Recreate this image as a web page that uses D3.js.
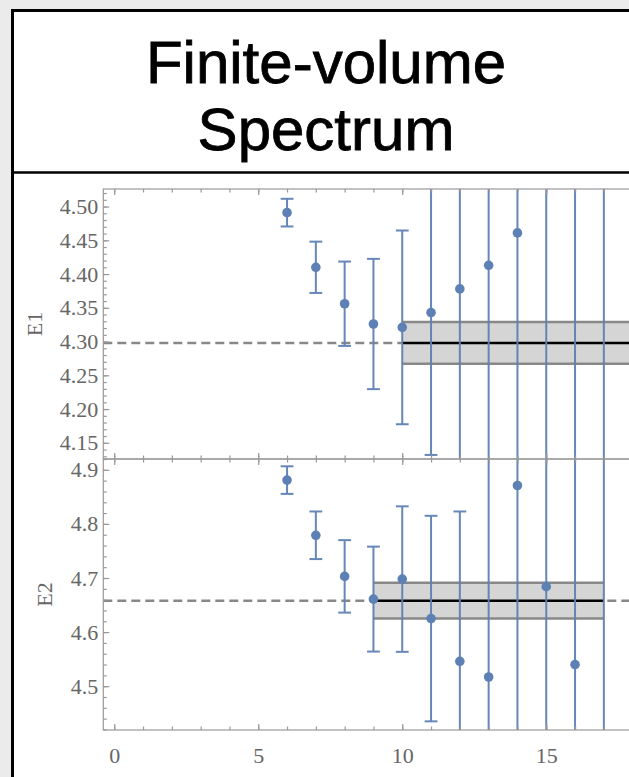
<!DOCTYPE html>
<html>
<head>
<meta charset="utf-8">
<script src="https://cdn.jsdelivr.net/npm/d3@7"></script>
<style>
  html, body { margin: 0; padding: 0; background: #ebebeb; }
  svg { display: block; }
</style>
</head>
<body>
<svg width="629" height="777"></svg>
<script>
// data
const xs = [6, 7, 8, 9, 10, 11, 12, 13, 14, 15, 16, 17];

const e1Values = [4.491, 4.410, 4.356, 4.326, 4.321, 4.343, 4.378, 4.413, 4.461, 4.58, 4.62, 4.05];
const e1Errors = [0.0205, 0.038, 0.0625, 0.0965, 0.1435, 0.211, 0.30, 0.36, 0.45, 0.6, 0.7, 0.8];
const e1Fit = { center: 4.298, half: 0.031, from: 10, to: 21 };

const e2Values = [4.881, 4.779, 4.703, 4.661, 4.698, 4.625, 4.546, 4.517, 4.871, 4.684, 4.540, 5.0];
const e2Errors = [0.0255, 0.044, 0.067, 0.097, 0.1345, 0.19, 0.277, 0.45, 0.5, 0.6, 0.7, 1.0];
const e2Fit = { center: 4.658, half: 0.033, from: 9, to: 17 };

const xMajor = [0, 5, 10, 15];
const xMinor = d3.range(0, 20);
const e1Major = [4.15, 4.20, 4.25, 4.30, 4.35, 4.40, 4.45, 4.50];
const e1Minor = d3.range(4.13, 4.525, 0.01);
const e2Major = [4.5, 4.6, 4.7, 4.8, 4.9];
const e2Minor = d3.range(4.42, 4.925, 0.02);

const blue = "#5e81b5";
const frameColor = "#999";
const textColor = "#666";
const serif = "'Liberation Serif', 'Times New Roman', serif";

const svg = d3.select("svg");

// outer box and title
svg.append("rect")
    .attr("x", 12.5).attr("y", 10.5)
    .attr("width", 628).attr("height", 800)
    .attr("fill", "#fff").attr("stroke", "#000").attr("stroke-width", 3);
svg.append("line")
    .attr("x1", 12).attr("x2", 640)
    .attr("y1", 172.5).attr("y2", 172.5)
    .attr("stroke", "#000").attr("stroke-width", 2.5);

const title = svg.append("text")
    .attr("text-anchor", "middle")
    .attr("stroke", "#000").attr("stroke-width", 0.8)
    .style("font-family", "'Liberation Sans', Arial, sans-serif")
    .style("font-size", "60px");
title.append("tspan").attr("x", 326).attr("y", 83).text("Finite-volume");
title.append("tspan").attr("x", 326).attr("y", 150).text("Spectrum");

const left = 103.3;
const x = d3.scaleLinear().domain([-0.38, 20]).range([left, left + 20.38 * 28.8]);
const right = x.range()[1];

function panel(id, yDomain, yRange, values, errors, fit, major, minor, fmt, label, labelX, showX) {
    const y = d3.scaleLinear().domain(yDomain).range(yRange);
    const top = yRange[1], bottom = yRange[0];
    const g = svg.append("g");

    svg.append("clipPath").attr("id", id)
        .append("rect")
        .attr("x", left).attr("y", top)
        .attr("width", right - left).attr("height", bottom - top);

    const plot = g.append("g").attr("clip-path", `url(#${id})`);

    // dashed reference line
    plot.append("line")
        .attr("x1", left).attr("x2", right)
        .attr("y1", y(fit.center)).attr("y2", y(fit.center))
        .attr("stroke", "#888").attr("stroke-width", 2.5)
        .attr("stroke-dasharray", "9,5");

    // fit band
    plot.append("rect")
        .attr("x", x(fit.from)).attr("y", y(fit.center + fit.half))
        .attr("width", x(fit.to) - x(fit.from))
        .attr("height", y(fit.center - fit.half) - y(fit.center + fit.half))
        .attr("fill", "#d5d5d5");
    [fit.center + fit.half, fit.center - fit.half].forEach(v => {
        plot.append("line")
            .attr("x1", x(fit.from)).attr("x2", x(fit.to))
            .attr("y1", y(v)).attr("y2", y(v))
            .attr("stroke", "#888").attr("stroke-width", 2.5);
    });
    plot.append("line")
        .attr("x1", x(fit.from)).attr("x2", x(fit.to))
        .attr("y1", y(fit.center)).attr("y2", y(fit.center))
        .attr("stroke", "#000").attr("stroke-width", 2.5);

    // error bars
    const pts = xs.map((d, i) => ({ x: d, v: values[i], e: errors[i] }));
    const bars = plot.append("g")
        .attr("stroke", blue).attr("stroke-width", 2).attr("opacity", 0.95);
    bars.selectAll(".bar").data(pts).join("line")
        .attr("x1", d => x(d.x)).attr("x2", d => x(d.x))
        .attr("y1", d => y(d.v - d.e)).attr("y2", d => y(d.v + d.e));
    bars.selectAll(".capTop").data(pts).join("line")
        .attr("x1", d => x(d.x) - 6.4).attr("x2", d => x(d.x) + 6.4)
        .attr("y1", d => y(d.v + d.e)).attr("y2", d => y(d.v + d.e));
    bars.selectAll(".capBot").data(pts).join("line")
        .attr("x1", d => x(d.x) - 6.4).attr("x2", d => x(d.x) + 6.4)
        .attr("y1", d => y(d.v - d.e)).attr("y2", d => y(d.v - d.e));

    plot.selectAll("circle").data(pts).join("circle")
        .attr("cx", d => x(d.x)).attr("cy", d => y(d.v))
        .attr("r", 4.8).attr("fill", blue);

    // frame and ticks
    const axes = g.append("g");
    function addAxis(axis, tx, ty) {
        const a = axes.append("g").attr("transform", `translate(${tx},${ty})`).call(axis);
        a.select(".domain").remove();
        a.selectAll("line").attr("stroke", frameColor).attr("stroke-width", 1.2);
        a.selectAll("text")
            .attr("fill", textColor)
            .style("font-family", serif)
            .style("font-size", "22px");
        return a;
    }
    addAxis(d3.axisLeft(y).tickValues(major).tickSize(-6).tickPadding(5).tickFormat(d3.format(fmt)), left, 0);
    addAxis(d3.axisLeft(y).tickValues(minor).tickSize(-3.5).tickFormat(""), left, 0);
    addAxis(d3.axisTop(x).tickValues(xMajor).tickSize(-6).tickFormat(""), 0, top);
    addAxis(d3.axisTop(x).tickValues(xMinor).tickSize(-3.5).tickFormat(""), 0, top);
    addAxis(d3.axisBottom(x).tickValues(xMajor).tickSize(-6).tickPadding(17)
        .tickFormat(showX ? d3.format("d") : ""), 0, bottom);
    addAxis(d3.axisBottom(x).tickValues(xMinor).tickSize(-3.5).tickFormat(""), 0, bottom);

    axes.append("rect")
        .attr("x", left).attr("y", top)
        .attr("width", right - left).attr("height", bottom - top)
        .attr("fill", "none").attr("stroke", frameColor).attr("stroke-width", 1.2);

    axes.append("text")
        .attr("transform", `translate(${labelX},${(top + bottom) / 2}) rotate(-90)`)
        .attr("text-anchor", "middle")
        .attr("dy", "0.35em")
        .attr("fill", textColor)
        .style("font-family", serif)
        .style("font-size", "22px")
        .text(label);
}

panel("clipE1", [4.126, 4.526], [459, 189], e1Values, e1Errors, e1Fit,
    e1Major, e1Minor, ".2f", "E1", 34.5, false);
panel("clipE2", [4.419, 4.920], [730, 459], e2Values, e2Errors, e2Fit,
    e2Major, e2Minor, ".1f", "E2", 44.5, true);
</script>
</body>
</html>
